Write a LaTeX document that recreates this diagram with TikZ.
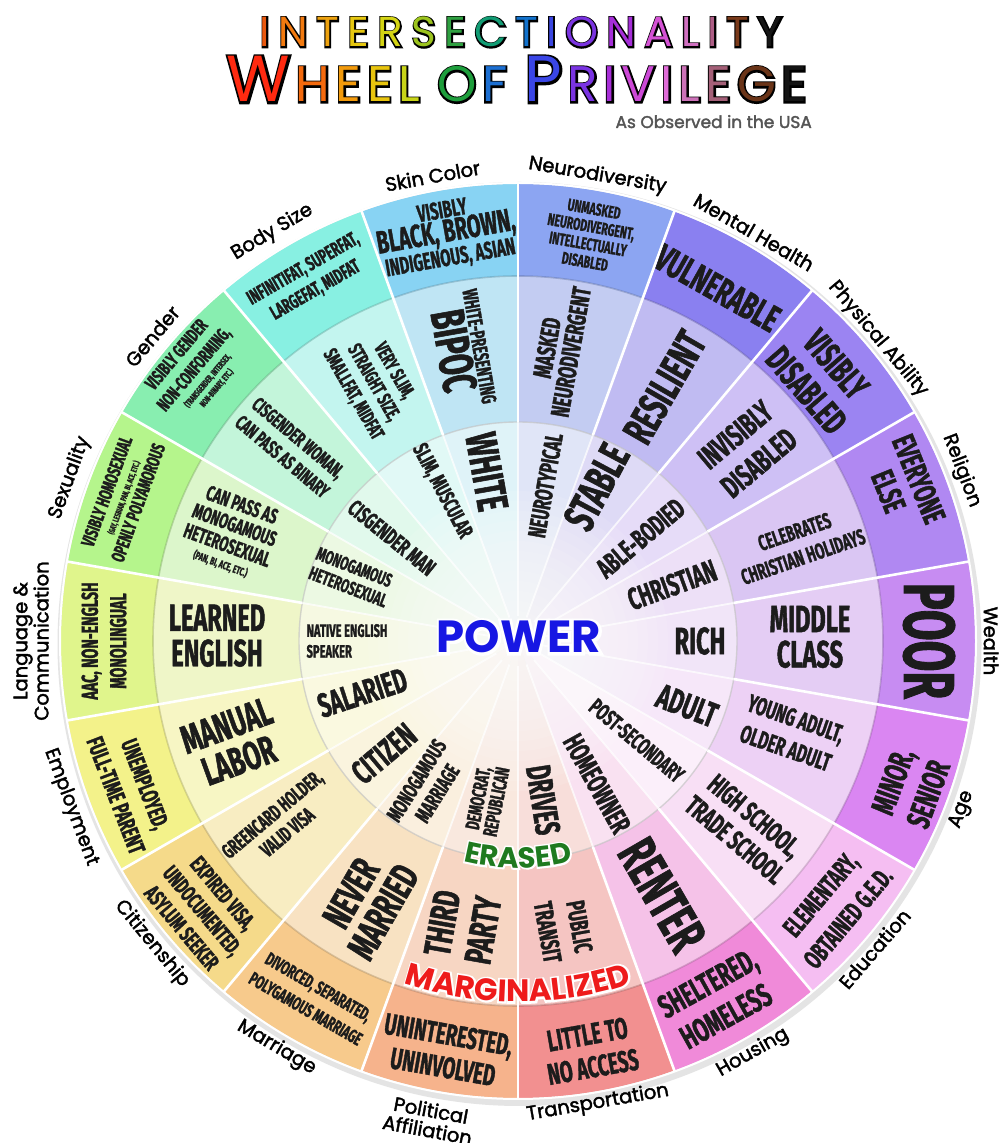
\documentclass[tikz,border=0pt]{standalone}
\usepackage{fontspec}
\usetikzlibrary{decorations.text,calc}
\newfontfamily\condfont{Fira Sans}[FakeStretch=0.62, FakeBold=1.2]
\newfontfamily\popfont{Poppins}
\newfontfamily\popout{Poppins}[FakeBold=7]
\newfontfamily\popoutW{Poppins}[FakeBold=12]
\newfontfamily\labfont{Poppins}[FakeBold=2]
\newcommand\cf[1]{\fontsize{#1}{\fpeval{0.93*(#1)}}\selectfont}
% segment colours: O outer, M middle, I inner
\definecolor{skinO}{HTML}{88D3F3}\definecolor{skinM}{HTML}{BFE5F4}\definecolor{skinI}{HTML}{DFF3F8}
\definecolor{neuroO}{HTML}{8CA5F2}\definecolor{neuroM}{HTML}{C3CCF2}\definecolor{neuroI}{HTML}{E0E5F7}
\definecolor{mentalO}{HTML}{8A80F0}\definecolor{mentalM}{HTML}{C0BBF2}\definecolor{mentalI}{HTML}{DEDAF6}
\definecolor{physO}{HTML}{9B84F2}\definecolor{physM}{HTML}{CEC0F5}\definecolor{physI}{HTML}{E6DCF8}
\definecolor{religO}{HTML}{B088F2}\definecolor{religM}{HTML}{DAC6F3}\definecolor{religI}{HTML}{EDE0F7}
\definecolor{wealthO}{HTML}{C78CF2}\definecolor{wealthM}{HTML}{E4CDF4}\definecolor{wealthI}{HTML}{F1E5F8}
\definecolor{ageO}{HTML}{DA86F2}\definecolor{ageM}{HTML}{EDD1F5}\definecolor{ageI}{HTML}{F6E7F9}
\definecolor{educO}{HTML}{F5BEF2}\definecolor{educM}{HTML}{F8DFF5}\definecolor{educI}{HTML}{FBEFFA}
\definecolor{housO}{HTML}{F08AD9}\definecolor{housM}{HTML}{F5C2E8}\definecolor{housI}{HTML}{F9E1F1}
\definecolor{transO}{HTML}{F29090}\definecolor{transM}{HTML}{F5C5C2}\definecolor{transI}{HTML}{F8DEDA}
\definecolor{politO}{HTML}{F6B38C}\definecolor{politM}{HTML}{F7D6C3}\definecolor{politI}{HTML}{F9E8DE}
\definecolor{marrO}{HTML}{F7CA8C}\definecolor{marrM}{HTML}{F8E2C2}\definecolor{marrI}{HTML}{FAEFDE}
\definecolor{citizO}{HTML}{F5DA8A}\definecolor{citizM}{HTML}{F8EDC2}\definecolor{citizI}{HTML}{FAF4DE}
\definecolor{emplO}{HTML}{F3F28A}\definecolor{emplM}{HTML}{F7F6C4}\definecolor{emplI}{HTML}{FAF9E0}
\definecolor{langO}{HTML}{E0F58C}\definecolor{langM}{HTML}{EFF6C8}\definecolor{langI}{HTML}{F6F9E2}
\definecolor{sexuO}{HTML}{B5F58C}\definecolor{sexuM}{HTML}{DCF6CB}\definecolor{sexuI}{HTML}{ECF9E3}
\definecolor{gendO}{HTML}{88EEB0}\definecolor{gendM}{HTML}{C3F5DA}\definecolor{gendI}{HTML}{E1F9EC}
\definecolor{bodyO}{HTML}{88F0E2}\definecolor{bodyM}{HTML}{C3F5EF}\definecolor{bodyI}{HTML}{E1F9F6}
\definecolor{txt}{HTML}{1C1C1C}
\definecolor{obs}{HTML}{555555}
\definecolor{powerc}{HTML}{1717E3}
\definecolor{erasedc}{HTML}{1F7A1F}
\definecolor{margc}{HTML}{EE1B1B}
% title colours
\definecolor{ta1}{HTML}{E8580F}\definecolor{ta2}{HTML}{F27A10}\definecolor{ta3}{HTML}{EDA20F}
\definecolor{ta4}{HTML}{E6C710}\definecolor{ta5}{HTML}{D4D414}\definecolor{ta6}{HTML}{9CC41E}
\definecolor{ta7}{HTML}{2FA041}\definecolor{ta8}{HTML}{129C74}\definecolor{ta9}{HTML}{1272CC}
\definecolor{ta10}{HTML}{3A46E0}\definecolor{ta11}{HTML}{7A34E0}\definecolor{ta12}{HTML}{A52ED8}
\definecolor{ta13}{HTML}{D452D4}\definecolor{ta14}{HTML}{D070C0}\definecolor{ta15}{HTML}{AE5E86}
\definecolor{ta16}{HTML}{7A3A1A}\definecolor{ta17}{HTML}{161616}
\definecolor{tb1}{HTML}{FF2A10}\definecolor{tb2}{HTML}{F46A0E}\definecolor{tb3}{HTML}{F29A0C}
\definecolor{tb4}{HTML}{E8C40E}\definecolor{tb5}{HTML}{C8D418}\definecolor{tb6}{HTML}{1E9E3C}
\definecolor{tb7}{HTML}{1C6FD2}\definecolor{tb8}{HTML}{3A46E6}\definecolor{tb9}{HTML}{7A34E2}
\definecolor{tb10}{HTML}{A82ED8}\definecolor{tb11}{HTML}{CC48D6}\definecolor{tb12}{HTML}{E06CD8}
\definecolor{tb13}{HTML}{CC72B8}\definecolor{tb14}{HTML}{A46078}\definecolor{tb15}{HTML}{6A3418}
\definecolor{tb16}{HTML}{141414}
\newlength\tsp
\newif\ifplain
\newcommand\tletter[2]{\ifplain#2\else\textcolor{#1}{#2}\fi\kern\tsp}
\newcommand\bigsz{\fontsize{65}{65}\selectfont}
\newcommand\titleA{\setlength\tsp{8.4pt}\tletter{ta1}{I}\tletter{ta2}{N}\tletter{ta3}{T}\tletter{ta4}{E}\tletter{ta5}{R}\tletter{ta6}{S}\tletter{ta7}{E}\tletter{ta8}{C}\tletter{ta9}{T}\tletter{ta10}{I}\tletter{ta11}{O}\tletter{ta12}{N}\tletter{ta13}{A}\tletter{ta14}{L}\tletter{ta15}{I}\tletter{ta16}{T}\tletter{ta17}{Y}\kern-\tsp}
\newcommand\titleB{\setlength\tsp{5.5pt}{\bigsz\tletter{tb1}{W}}\tletter{tb2}{H}\tletter{tb3}{E}\tletter{tb4}{E}\tletter{tb5}{L}\kern12pt\tletter{tb6}{O}\tletter{tb7}{F}\kern12pt{\bigsz\tletter{tb8}{P}}\tletter{tb9}{R}\tletter{tb10}{I}\tletter{tb11}{V}\tletter{tb12}{I}\tletter{tb13}{L}\tletter{tb14}{E}\tletter{tb15}{G}\tletter{tb16}{E}\kern-\tsp}
\begin{document}
\begin{tikzpicture}[x=1pt,y=1pt,
  wt/.style={font=\condfont\bfseries\cf{#1}, align=center, inner sep=0pt, text=txt},
  lab/.style={font=\labfont\fontsize{19.5}{20}\selectfont, align=center, inner sep=0pt, text=black},
  ttlA/.style={font=\popfont\fontsize{42}{42}\selectfont, inner sep=0pt, anchor=base},
  ttlAo/.style={font=\popout\fontsize{42}{42}\selectfont, inner sep=0pt, anchor=base, text=black},
  ttlB/.style={font=\popfont\fontsize{50}{50}\selectfont, inner sep=0pt, anchor=base},
  ttlBo/.style={font=\popout\fontsize{50}{50}\selectfont, inner sep=0pt, anchor=base, text=black},
  pwr/.style={font=\popfont\bfseries\fontsize{45}{45}\selectfont, inner sep=0pt},
  pwro/.style={font=\popoutW\bfseries\fontsize{45}{45}\selectfont, inner sep=0pt, text=white}]
\useasboundingbox (0,0) rectangle (1000,1143);
\fill[white] (0,0) rectangle (1000,1143);
% ---------- title ----------
\coordinate (tA) at (521,1096);
\coordinate (tB) at (517,1041);
\node[ttlAo] (titleAo) at (tA) {\plaintrue\titleA};
\node[ttlA] (titleA) at (tA) {\titleA};
\node[ttlBo] (titleBo) at (tB) {\plaintrue\titleB};
\node[ttlB] (titleB) at (tB) {\titleB};
\node[font=\labfont\fontsize{17}{17}\selectfont, text=obs, anchor=base east, inner sep=0pt] (subt) at (812,1015) {As Observed in the USA};
% ---------- wheel ----------
\begin{scope}[shift={(518,502)}]
\fill[black!35, opacity=0.3] (1.5,-3) circle (462pt);
\foreach \a/\cc in {80/neuro,60/mental,40/phys,20/relig,0/wealth,-20/age,-40/educ,-60/hous,-80/trans,-100/polit,-120/marr,-140/citiz,-160/empl,180/lang,160/sexu,140/gend,120/body,100/skin}{
  \fill[\cc O] (\a-10:365) arc[start angle=\a-10, delta angle=20, radius=365pt] -- (\a+10:457) arc[start angle=\a+10, delta angle=-20, radius=457pt] -- cycle;
  \fill[\cc M] (\a-10:219) arc[start angle=\a-10, delta angle=20, radius=219pt] -- (\a+10:365) arc[start angle=\a+10, delta angle=-20, radius=365pt] -- cycle;
  \fill[\cc I] (0,0) -- (\a-10:219) arc[start angle=\a-10, delta angle=20, radius=219pt] -- cycle;
  \draw[\cc O!70!black, opacity=0.45, line width=1.6pt] (\a-10:365) arc[start angle=\a-10, delta angle=20, radius=365pt];
}
\foreach \r in {10,20,...,150}{\fill[white, opacity=0.1] (0,0) circle (\r pt);}
\draw[black!25, opacity=0.6, line width=1.4pt] (0,0) circle (219pt);
\foreach \a in {10,30,...,350}{\draw[white, opacity=0.75, line width=1.8pt] (\a:25) -- (\a:219);}
\foreach \a in {10,30,...,350}{\draw[white, line width=2.6pt] (\a:219) -- (\a:458);}
\draw[white, line width=2pt] (0,0) circle (458pt);
% ---------- outer ring texts ----------
\node[wt=24, rotate=10] (oskin) at (100:412) {VISIBLY\\{\cf{32}BLACK, BROWN,}\\INDIGENOUS, ASIAN};
\node[wt=17, rotate=-10] (oneuro) at (80:412) {UNMASKED\\[2pt]NEURODIVERGENT,\\[2pt]INTELLECTUALLY\\[2pt]DISABLED};
\node[wt=38, rotate=-29.5] (omental) at (60.5:405) {VULNERABLE};
\node[wt=37, rotate=-49] (ophys) at (41:402) {VISIBLY\\[5pt]DISABLED};
\node[wt=32, rotate=-68] (orelig) at (22:416) {EVERYONE\\[3pt]ELSE};
\node[wt=72, rotate=-90] (owealth) at (0:411) {POOR};
\node[wt=33, rotate=70] (oage) at (-20.5:419) {MINOR,\\[7pt]SENIOR};
\node[wt=27, rotate=50] (oeduc) at (-40:413) {ELEMENTARY,\\[11pt]OBTAINED G.E.D.};
\node[wt=33, rotate=29] (ohous) at (-61:410) {SHELTERED,\\[7pt]HOMELESS};
\node[wt=30, rotate=10] (otrans) at (-80:416) {LITTLE TO\\[5pt]NO ACCESS};
\node[wt=30, rotate=-10] (opolit) at (-100:416) {UNINTERESTED,\\[5pt]UNINVOLVED};
\node[wt=18.5, rotate=-30] (omarr) at (-120:412) {DIVORCED, SEPARATED,\\[8pt]POLYGAMOUS MARRIAGE};
\node[wt=22.5, rotate=-50] (ocitiz) at (-139.5:415) {EXPIRED VISA,\\[6pt]UNDOCUMENTED,\\[6pt]ASYLUM SEEKER};
\node[wt=24, rotate=-69] (oempl) at (-159:415) {UNEMPLOYED,\\[9pt]FULL-TIME PARENT};
\node[wt=23, rotate=90] (olang) at (180:414) {AAC, NON-ENGLSH\\[7pt]MONOLINGUAL};
\node[wt=19, rotate=70] (osexu) at (160:421) {VISIBLY HOMOSEXUAL\\[-3pt]{\cf{8.5}(GAY, LESBIAN, PAN, BI, ACE, ETC.)}\\[1pt]OPENLY POLYAMOROUS};
\node[wt=19, rotate=50] (ogend) at (140:421) {VISIBLY GENDER\\[5pt]NON-CONFORMING,\\[-3pt]{\cf{9}(TRANSGENDER, INTERSEX,}\\[-6pt]{\cf{9}NON-BINARY, ETC.)}};
\node[wt=20, rotate=30] (obody) at (120:417) {INFINITIFAT, SUPERFAT,\\[6pt]LARGEFAT, MIDFAT};
% ---------- middle ring texts ----------
\node[wt=21, rotate=-80] (mskin) at (100.9:297) {WHITE-PRESENTING\\{\cf{48}BIPOC}};
\node[wt=26, rotate=80] (mneuro) at (82:294) {MASKED\\NEURODIVERGENT};
\node[wt=43, rotate=60] (mmental) at (60:293) {RESILIENT};
\node[wt=32, rotate=40] (mphys) at (40:299) {INVISIBLY\\[7pt]DISABLED};
\node[wt=22, rotate=19] (mrelig) at (19:297) {CELEBRATES\\[6pt]CHRISTIAN HOLIDAYS};
\node[wt=38] (mwealth) at (0.8:292) {MIDDLE\\CLASS};
\node[wt=25, rotate=-19] (mage) at (-18.7:288) {YOUNG ADULT,\\[8pt]OLDER ADULT};
\node[wt=28, rotate=-40] (meduc) at (-39.5:294) {HIGH SCHOOL,\\[5pt]TRADE SCHOOL};
\node[wt=55, rotate=-60] (mhous) at (-60.4:292) {RENTER};
\node[wt=26, rotate=-80] (mtrans) at (-81:292) {PUBLIC\\[8pt]TRANSIT};
\node[wt=38, rotate=80] (mpolit) at (-101:291) {THIRD\\[6pt]PARTY};
\node[wt=40, rotate=60] (mmarr) at (-120:302) {NEVER\\MARRIED};
\node[wt=21, rotate=40] (mcitiz) at (-142.6:300) {GREENCARD HOLDER,\\[4pt]VALID VISA};
\node[wt=40, rotate=20] (mempl) at (-160.3:303) {MANUAL\\LABOR};
\node[wt=38] (mlang) at (179:301) {LEARNED\\ENGLISH};
\node[wt=21, rotate=-20] (msexu) at (159.4:306) {CAN PASS AS\\[2pt]MONOGAMOUS\\[2pt]HETEROSEXUAL\\[-3pt]{\cf{11}(PAN, BI, ACE, ETC.)}};
\node[wt=20, rotate=-40] (mgend) at (139.6:299) {CISGENDER WOMAN,\\[6pt]CAN PASS AS BINARY};
\node[wt=20, rotate=-60] (mbody) at (119.3:296) {VERY SLIM,\\[5pt]STRAIGHT SIZE,\\[5pt]SMALLFAT, MIDFAT};
% ---------- inner ring texts ----------
\node[wt=44, rotate=-80] (iskin) at (100.4:172) {WHITE};
\node[wt=25, rotate=80] (ineuro) at (80:158) {NEUROTYPICAL};
\node[wt=44, rotate=62] (imental) at (63:173) {STABLE};
\node[wt=28, rotate=40] (iphys) at (40:160) {ABLE-BODIED};
\node[wt=31, rotate=20] (irelig) at (20:164) {CHRISTIAN};
\node[wt=38] (iwealth) at (0:182) {RICH};
\node[wt=35, rotate=-21] (iage) at (-21:181) {ADULT};
\node[wt=23, rotate=-40] (ieduc) at (-40:155) {POST-SECONDARY};
\node[wt=29, rotate=-61] (ihous) at (-61:163) {HOMEOWNER};
\node[wt=35, rotate=-81] (itrans) at (-81:161) {DRIVES};
\node[wt=20, rotate=79] (ipolit) at (-101:162) {DEMOCRAT,\\REPUBLICAN};
\node[wt=22, rotate=58] (imarr) at (-122:172) {MONOGAMOUS\\[4pt]MARRIAGE};
\node[wt=34, rotate=40] (icitiz) at (-140:175) {CITIZEN};
\node[wt=34, rotate=18] (iempl) at (-161.6:164) {SALARIED};
\node[wt=18, align=left] (ilang) at (180:171) {NATIVE ENGLISH\\[4pt]SPEAKER};
\node[wt=19, rotate=-21, align=left] (isexu) at (159:178) {MONOGAMOUS\\[3pt]HETEROSEXUAL};
\node[wt=23, rotate=-39] (igend) at (140.7:163) {CISGENDER MAN};
\node[wt=22, rotate=-62] (ibody) at (117:168) {SLIM, MUSCULAR};
% ---------- centre words ----------
\coordinate (pw) at (1,4);
\node[pwro] (powero) at (pw) {POWER};
\node[pwr, text=powerc] (power) at (pw) {POWER};
\path[decorate, decoration={text along path, text align=center, text color=white, text={|\popoutW\bfseries\fontsize{29}{29}\selectfont|ERASED}}] (-120:227) arc[start angle=-120, end angle=-60, radius=227pt];
\path[decorate, decoration={text along path, text align=center, text color=white, text={|\popoutW\bfseries\fontsize{31}{31}\selectfont|MARGINALIZED}}] (-125:361) arc[start angle=-125, end angle=-55, radius=361pt];
\path[decorate, decoration={text along path, text align=center, text color=erasedc, text={|\popfont\bfseries\fontsize{29}{29}\selectfont|ERASED}}] (-120:227) arc[start angle=-120, end angle=-60, radius=227pt];
\path[decorate, decoration={text along path, text align=center, text color=margc, text={|\popfont\bfseries\fontsize{31}{31}\selectfont|MARGINALIZED}}] (-125:361) arc[start angle=-125, end angle=-55, radius=361pt];
% ---------- category labels ----------
\node[lab, rotate=10.4] (lskin) at (100.4:473) {Skin Color};
\node[lab, rotate=-9.7] (lneuro) at (80.3:472) {Neurodiversity};
\node[lab, rotate=-30] (lmental) at (60:472) {Mental Health};
\node[lab, rotate=-50] (lphys) at (40:470) {Physical Ability};
\node[lab, rotate=-69] (lrelig) at (21:475) {Religion};
\node[lab, rotate=-90] (lwealth) at (0:473) {Wealth};
\node[lab, rotate=69.2] (lage) at (-20.8:475) {Age};
\node[lab, rotate=49.2] (leduc) at (-40.8:471) {Education};
\node[lab, rotate=29.7] (lhous) at (-60.3:474) {Housing};
\node[lab, rotate=9.8] (ltrans) at (-80.2:469) {Transportation};
\node[lab, rotate=-10.5] (lpolit) at (-100.5:487) {Political\\Affiliation};
\node[lab, rotate=-30.7] (lmarr) at (-120.7:473) {Marriage};
\node[lab, rotate=-50.4] (lcitiz) at (-140.4:475) {Citizenship};
\node[lab, rotate=-69.6] (lempl) at (-159.6:477) {Employment};
\node[lab, rotate=90] (llang) at (180:487) {Language \&\\Communication};
\node[lab, rotate=70] (lsexu) at (160:477) {Sexuality};
\node[lab, rotate=50.2] (lgend) at (140.2:476) {Gender};
\node[lab, rotate=31] (lbody) at (121:477) {Body Size};
\end{scope}
\end{tikzpicture}
\end{document}
